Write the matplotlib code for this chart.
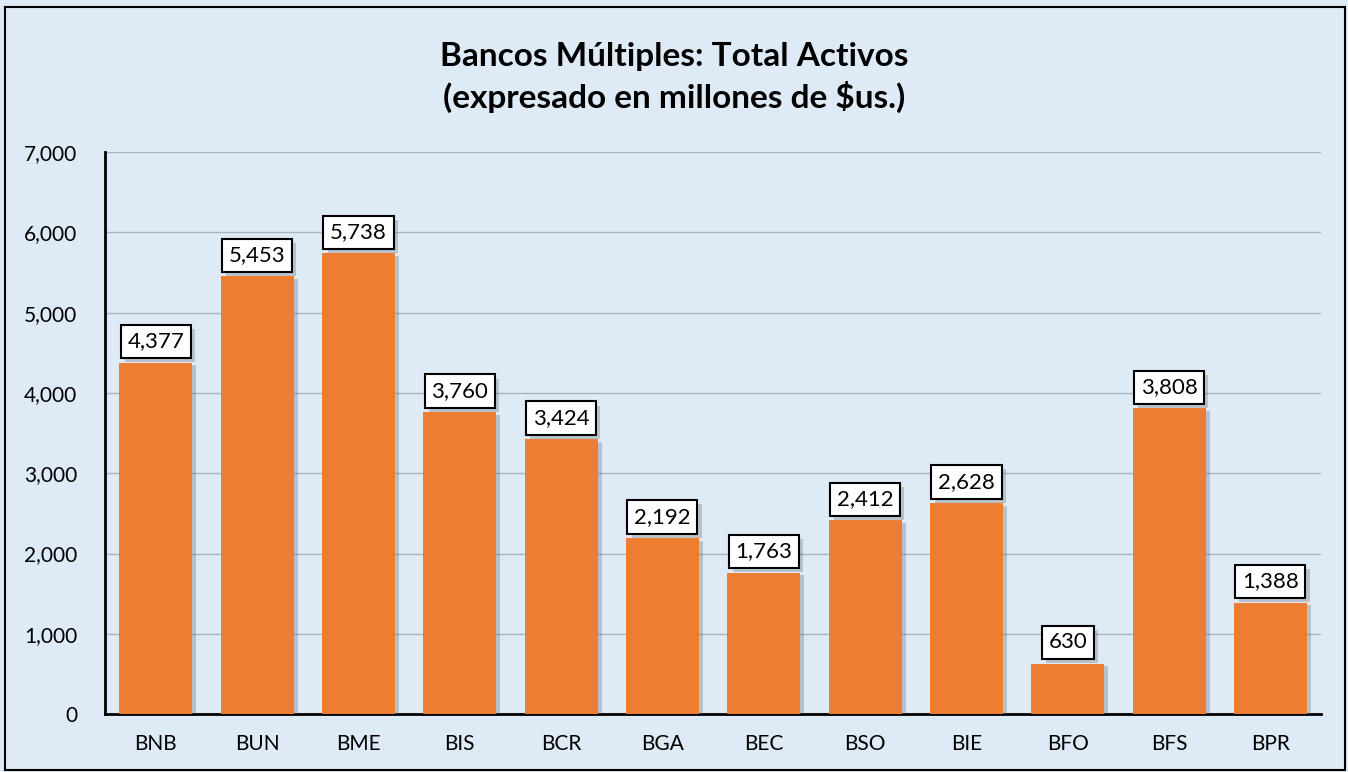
import matplotlib.pyplot as plt
import matplotlib.patheffects as pe
from matplotlib.patches import Rectangle
from matplotlib.ticker import FuncFormatter

bancos = ['BNB', 'BUN', 'BME', 'BIS', 'BCR', 'BGA', 'BEC', 'BSO', 'BIE', 'BFO', 'BFS', 'BPR']
activos = [4377, 5453, 5738, 3760, 3424, 2192, 1763, 2412, 2628, 630, 3808, 1388]

fondo = '#DEEAF6'
naranja = '#ED7D31'

plt.rcParams['font.family'] = ['Lato', 'DejaVu Sans']

fig = plt.figure(figsize=(13.48, 7.72), dpi=100, facecolor=fondo)
ax = fig.add_axes([0.078, 0.075, 0.902, 0.728])
ax.set_facecolor(fondo)

# marco negro alrededor del grafico
fig.patches.append(Rectangle((0.004, 0.003), 0.994, 0.988, transform=fig.transFigure,
                             fill=False, edgecolor='black', linewidth=1.5))

x = range(len(bancos))
barras = ax.bar(x, activos, width=0.72, color=naranja, zorder=3)
for b in barras:
    b.set_path_effects([pe.SimplePatchShadow(offset=(3, -2), shadow_rgbFace='#5a6470', alpha=0.3),
                        pe.Normal()])

for xi, v in zip(x, activos):
    t = ax.annotate(f'{v:,}', (xi, v), xytext=(0, 8), textcoords='offset points',
                    ha='center', va='bottom', fontsize=16, zorder=5,
                    bbox=dict(boxstyle='square,pad=0.3', fc='white', ec='black', lw=1.5))
    t.get_bbox_patch().set_path_effects([pe.SimplePatchShadow(offset=(3, -3), alpha=0.25), pe.Normal()])

ax.set_xlim(-0.5, len(bancos) - 0.5)
ax.set_ylim(0, 7000)
ax.set_yticks(range(0, 7001, 1000))
ax.yaxis.set_major_formatter(FuncFormatter(lambda v, p: f'{int(v):,}'))
ax.set_xticks(list(x))
ax.set_xticklabels(bancos)
ax.tick_params(axis='both', length=0, labelsize=15, colors='black')
ax.tick_params(axis='x', pad=14)
ax.tick_params(axis='y', pad=20)
ax.grid(axis='y', color='#A9B4C0', linewidth=1, zorder=0)

for s in ['top', 'right']:
    ax.spines[s].set_visible(False)
ax.spines['left'].set_linewidth(2)
ax.spines['bottom'].set_linewidth(2)

fig.text(0.5, 0.90, 'Bancos Múltiples: Total Activos\n(expresado en millones de $us.)',
         ha='center', va='center', fontsize=24, fontweight='bold', linespacing=1.35)

fig.savefig('out.png', dpi=100, facecolor=fondo)
